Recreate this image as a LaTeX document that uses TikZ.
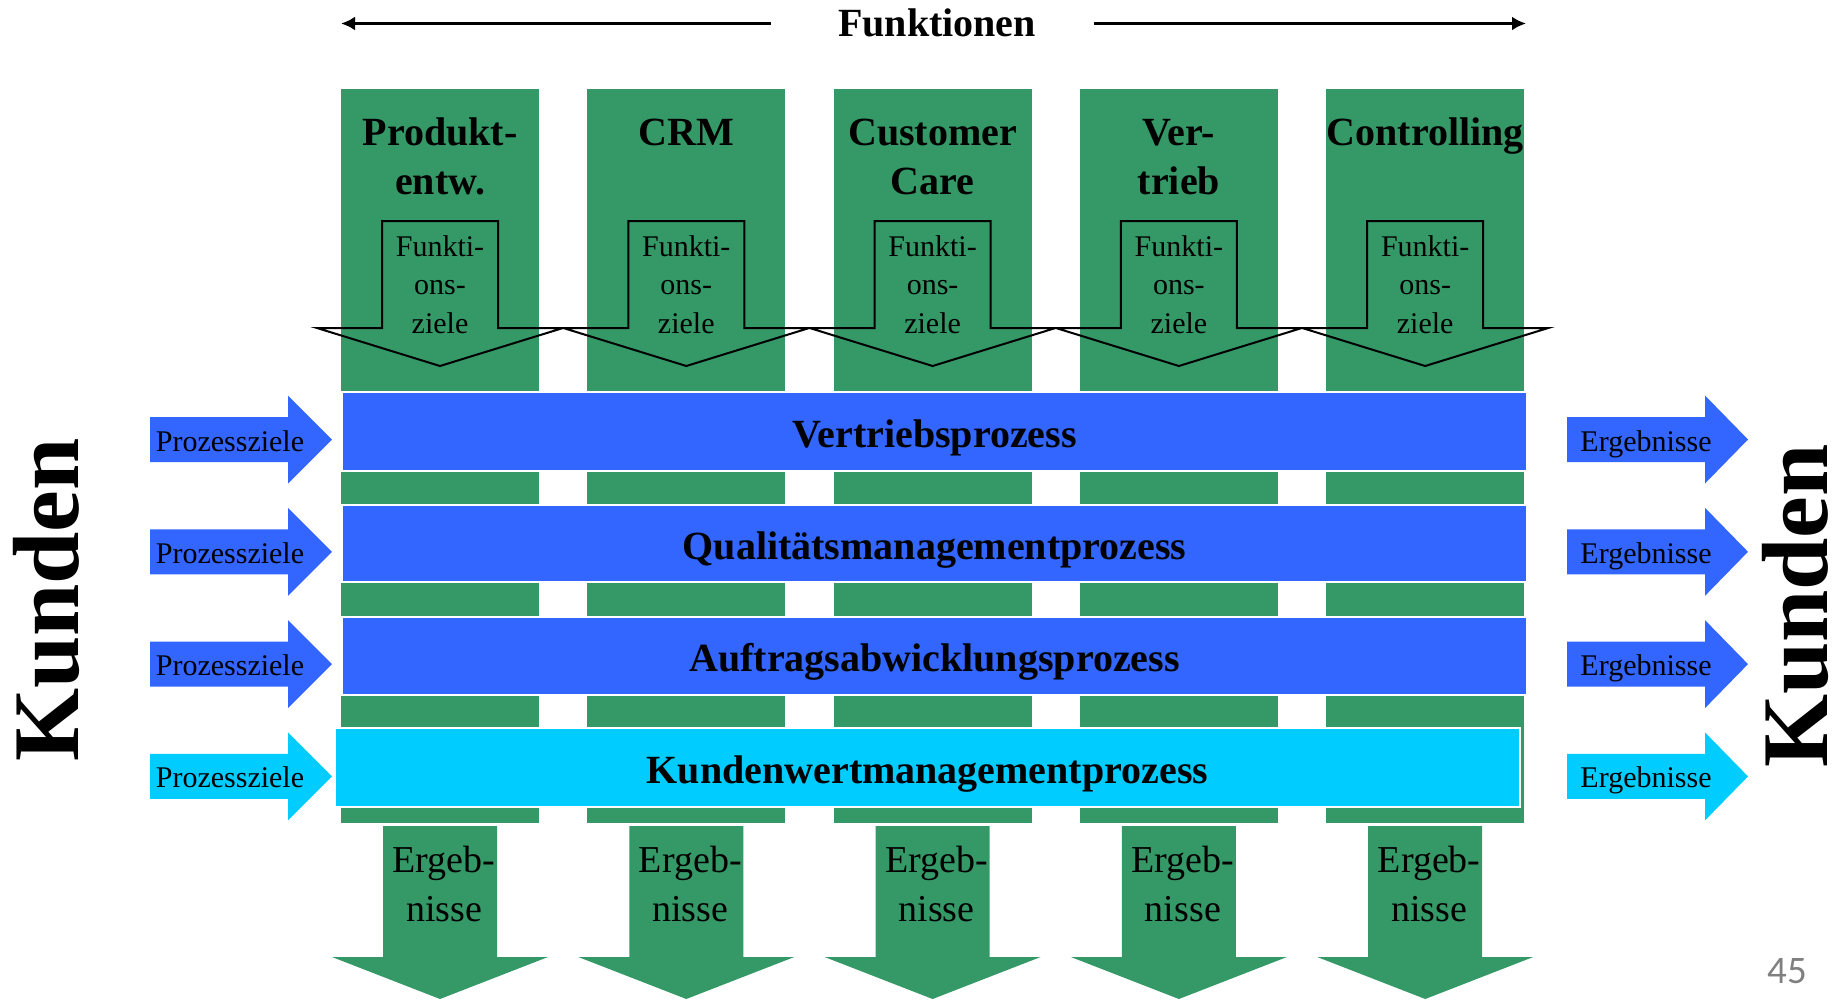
\documentclass[tikz,border=0pt]{standalone}
\usepackage{fontspec}
\setmainfont{Liberation Serif}
\newfontfamily\pagenumfont{Carlito}
\usetikzlibrary{arrows.meta}
\definecolor{colgreen}{RGB}{53,153,103}
\definecolor{procblue}{RGB}{51,102,255}
\definecolor{proccyan}{RGB}{0,204,255}
\definecolor{pagegray}{RGB}{128,128,128}
\begin{document}
\begin{tikzpicture}[x=1pt,y=-1pt,
  coltitle/.style={font=\fontsize{40}{49}\selectfont\bfseries, align=center, anchor=base, inner sep=0pt},
  goaltext/.style={font=\fontsize{30}{38.5}\selectfont, align=center, anchor=base, inner sep=0pt},
  resulttext/.style={font=\fontsize{38}{49}\selectfont, align=center, anchor=base, inner sep=0pt},
  procbar/.style={draw=white, line width=2.5pt, minimum width=1185pt, text height=34pt, text depth=3pt,
                  font=\fontsize{40}{48}\selectfont\bfseries, inner sep=0pt},
  sidetext/.style={font=\fontsize{30}{36}\selectfont, anchor=base, inner sep=0pt},
  kunden/.style={font=\fontsize{94}{110}\selectfont\bfseries, rotate=90, anchor=base, inner sep=0pt},
  goalarrow/.style={draw=black, line width=2pt, line join=miter},
  axisarrow/.style={line width=3pt, -{Latex[length=14pt,width=14pt]}},
]
\useasboundingbox (0,0) rectangle (1845,999);

% header: functions axis
\node[font=\fontsize{40}{48}\selectfont\bfseries, anchor=base, inner sep=0pt] (fn) at (937,36) {Funktionen};
\coordinate (fl0) at (771,23.5);
\coordinate (fl1) at (341,23.5);
\coordinate (fr0) at (1094,23.5);
\coordinate (fr1) at (1526,23.5);
\draw[axisarrow] (fl0) -- (fl1);
\draw[axisarrow] (fr0) -- (fr1);

% functional columns
\foreach \i in {0,...,4} {
  \pgfmathsetmacro{\cx}{440+246.3*\i}
  \fill[colgreen] (\cx-99,89) rectangle (\cx+99,823);
}

% process bars across the columns
\node[procbar, fill=procblue, minimum height=79pt] (p1) at (934.5,431.5) {Vertriebsprozess};
\node[procbar, fill=procblue, minimum height=77pt] (p2) at (934.5,543.5) {Qualitätsmanagementprozess};
\node[procbar, fill=procblue, minimum height=78pt] (p3) at (934.5,656) {Auftragsabwicklungsprozess};
\node[procbar, fill=proccyan, minimum height=79pt] (p4) at (927.5,767.5) {Kundenwertmanagementprozess};

% column titles (base = last line), goal arrows and result arrows
\foreach \i/\title/\ty in {0/{Produkt-\\entw.}/194,1/{CRM}/145,2/{Customer\\Care}/194,3/{Ver-\\trieb}/194,4/{Controlling}/145} {
  \pgfmathsetmacro{\cx}{440+246.3*\i}
  \node[coltitle] (title\i) at (\cx,\ty) {\title};
  \draw[goalarrow] (\cx-58,221) -- (\cx+58,221) -- (\cx+58,328) -- (\cx+123,328)
        -- (\cx,366) -- (\cx-123,328) -- (\cx-58,328) -- cycle;
  \node[goaltext] (goal\i) at (\cx,333) {Funkti-\\ons-\\ziele};
  \fill[colgreen] (\cx-57,826) -- (\cx+57,826) -- (\cx+57,957) -- (\cx+108,957)
        -- (\cx,999) -- (\cx-108,957) -- (\cx-57,957) -- cycle;
  \node[resulttext] (res\i) at (\cx+4,921) {Ergeb-\\nisse};
}

% process goals (left) and process results (right)
\foreach \j/\c in {0/procblue,1/procblue,2/procblue,3/proccyan} {
  \pgfmathsetmacro{\cy}{439.5+112.3*\j}
  \fill[\c] (150,\cy-22.5) -- (288,\cy-22.5) -- (288,\cy-44) -- (332,\cy)
        -- (288,\cy+44) -- (288,\cy+22.5) -- (150,\cy+22.5) -- cycle;
  \node[sidetext] (pz\j) at (230,\cy+11.5) {Prozessziele};
  \fill[\c] (1567,\cy-22.5) -- (1705,\cy-22.5) -- (1705,\cy-44) -- (1748,\cy)
        -- (1705,\cy+44) -- (1705,\cy+22.5) -- (1567,\cy+22.5) -- cycle;
  \node[sidetext] (er\j) at (1646,\cy+11.5) {Ergebnisse};
}

% customers on both sides
\node[kunden] (kl) at (78,600) {Kunden};
\node[kunden] (kr) at (1827,606) {Kunden};

% page number
\node[font=\pagenumfont\fontsize{39}{44}\selectfont, text=pagegray, anchor=base, inner sep=0pt] (pg) at (1787.5,983) {45};
\end{tikzpicture}
\end{document}
